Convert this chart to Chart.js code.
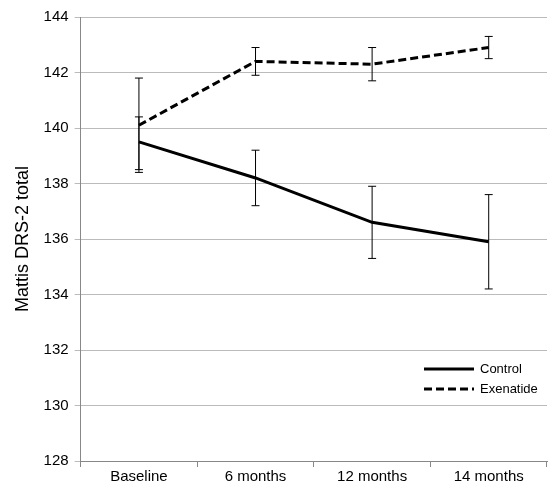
<!DOCTYPE html>
<html><head><meta charset="utf-8">
<script src="https://cdn.jsdelivr.net/npm/chart.js@4"></script>
<style>html,body{margin:0;background:#fff}#wrap{width:550px;height:487px}</style>
</head><body><div id="wrap"><canvas id="c"></canvas></div>
<script>
"use strict";
const labels = ["Baseline", "6 months", "12 months", "14 months"];
const control = [139.5, 138.2, 136.6, 135.9];
const controlLo = [138.5, 137.2, 135.3, 134.2];
const controlHi = [140.4, 139.2, 137.9, 137.6];
const exenatide = [140.1, 142.4, 142.3, 142.9];
const exenatideLo = [138.4, 141.9, 141.7, 142.5];
const exenatideHi = [141.8, 142.9, 142.9, 143.3];
const FONT = "Liberation Sans, Arial, sans-serif";

// error bars drawn through the scales
const errorBars = {
  id: "errorBars",
  afterDatasetsDraw(chart) {
    const ctx = chart.ctx, x = chart.scales.x, y = chart.scales.y;
    ctx.save();
    ctx.strokeStyle = "#000";
    ctx.lineWidth = 1;
    [[controlLo, controlHi], [exenatideLo, exenatideHi]].forEach(([lo, hi]) => {
      lo.forEach((v, i) => {
        const px = x.getPixelForValue(i);
        const y1 = y.getPixelForValue(v), y2 = y.getPixelForValue(hi[i]);
        ctx.beginPath();
        ctx.moveTo(px, y1); ctx.lineTo(px, y2);
        ctx.moveTo(px - 4, y1); ctx.lineTo(px + 4, y1);
        ctx.moveTo(px - 4, y2); ctx.lineTo(px + 4, y2);
        ctx.stroke();
      });
    });
    ctx.restore();
  },
};

// legend inside plot, bottom right
const innerLegend = {
  id: "innerLegend",
  afterDraw(chart) {
    const ctx = chart.ctx, a = chart.chartArea;
    const items = [["Control", []], ["Exenatide", [8, 4]]];
    ctx.save();
    ctx.font = "13px " + FONT;
    ctx.fillStyle = "#000";
    ctx.textBaseline = "middle";
    items.forEach(([t, dash], i) => {
      const yy = a.bottom - 92 + i * 20;
      const x0 = a.right - 123;
      ctx.strokeStyle = "#000";
      ctx.lineWidth = 3;
      ctx.setLineDash(dash);
      ctx.beginPath(); ctx.moveTo(x0, yy); ctx.lineTo(x0 + 50, yy); ctx.stroke();
      ctx.setLineDash([]);
      ctx.fillText(t, x0 + 56, yy);
    });
    ctx.restore();
  },
};

new Chart(document.getElementById("c"), {
  type: "line",
  data: {
    labels,
    datasets: [
      { label: "Control", data: control, borderColor: "#000", borderWidth: 3, pointRadius: 0, tension: 0 },
      { label: "Exenatide", data: exenatide, borderColor: "#000", borderWidth: 3, borderDash: [8, 4], pointRadius: 0, tension: 0 },
    ],
  },
  options: {
    responsive: true,
    maintainAspectRatio: false,
    animation: false,
    layout: { padding: { top: 17, right: 3, left: 8, bottom: 0 } },
    plugins: { legend: { display: false }, tooltip: { enabled: false } },
    scales: {
      x: {
        offset: true,
        grid: { offset: true, drawOnChartArea: false, color: "#888", tickLength: 6 },
        border: { color: "#888" },
        ticks: { color: "#000", font: { size: 15, family: FONT }, padding: 1 },
      },
      y: {
        min: 128, max: 144,
        ticks: { stepSize: 2, color: "#000", font: { size: 15, family: FONT }, padding: 6 },
        grid: { color: "#bbb", tickLength: 6 },
        border: { color: "#888" },
        title: { display: true, text: "Mattis DRS-2 total", color: "#000", font: { size: 18, family: FONT } },
      },
    },
  },
  plugins: [errorBars, innerLegend],
});
</script></body></html>
